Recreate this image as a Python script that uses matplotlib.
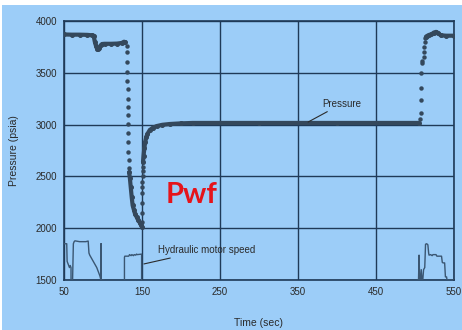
import matplotlib
matplotlib.use("Agg")
import matplotlib.pyplot as plt
from matplotlib.patches import Rectangle

# ---- data ----
# dense pressure record (drawn as a thick dotted trace)
pre_t = [50, 60, 70, 80, 86, 88, 89.5, 91, 92.5, 94, 95.5, 97, 99, 102, 110, 118, 124, 127, 128.5]
pre_p = [3870, 3868, 3868, 3866, 3862, 3858, 3800, 3760, 3732, 3728, 3740, 3765, 3778, 3780, 3780, 3782, 3788, 3800, 3795]

# fast drawdown (sparse points)
drop_t = [130.5, 131, 131, 131.2, 131.4, 131.5, 131.6, 131.8, 132, 132, 132.2, 132.4, 132.6, 132.8, 133]
drop_p = [3760, 3700, 3600, 3510, 3420, 3340, 3250, 3170, 3090, 3005, 2920, 2830, 2740, 2660, 2580]

# end of drawdown (dense)
dd_t = [133.5, 134.5, 135.5, 136.8, 138, 139.5, 141, 143, 145, 147, 149, 150]
dd_p = [2540, 2480, 2400, 2300, 2220, 2180, 2140, 2110, 2080, 2055, 2030, 2015]

# buildup start (sparse points)
bu_t = [150, 150.2, 150.3, 150.4, 150.5, 150.6, 150.7, 150.8, 151]
bu_p = [2060, 2150, 2245, 2340, 2400, 2450, 2505, 2550, 2595]

# buildup curve and stabilised pressure (dense)
rec_t = [151.3, 152, 153, 154, 155.5, 157, 160, 164, 169, 176, 186, 200, 215, 300, 400, 505]
rec_p = [2640, 2700, 2770, 2830, 2880, 2910, 2948, 2970, 2986, 2998, 3006, 3012, 3016, 3016, 3016, 3016]

# pressure rise at the end (sparse points)
rise_t = [507, 507.5, 507.8, 508, 508.3, 509, 509.5, 511, 511.5, 512, 512.5, 513]
rise_p = [3050, 3110, 3240, 3350, 3500, 3590, 3610, 3650, 3700, 3750, 3800, 3840]

# final dense segment
end_t = [514, 516, 518, 521, 524, 527, 530, 533, 540, 550]
end_p = [3848, 3858, 3866, 3870, 3888, 3895, 3880, 3862, 3858, 3858]

# hydraulic motor speed trace (plotted on the pressure scale)
m1_t = [50, 53.5, 54, 55, 56, 57, 58, 59, 59, 61, 62, 63, 64, 70, 78, 81, 82, 83, 86, 89, 92, 94, 96, 97, 97.5, 97.5, 97.5, 101]
m1_p = [1850, 1850, 1680, 1660, 1640, 1620, 1640, 1620, 1500, 1500, 1850, 1870, 1878, 1870, 1870, 1876, 1760, 1740, 1700, 1660, 1620, 1580, 1540, 1510, 1505, 1850, 1500, 1500]
m2_t = [127.5, 127.5, 128, 133, 134, 136, 137, 139, 140, 142, 143, 144, 149.5, 149.5]
m2_p = [1500, 1720, 1730, 1730, 1745, 1735, 1745, 1735, 1745, 1740, 1750, 1745, 1750, 1500]
m3_t = [503, 504.5, 505.2, 506, 507, 508, 509, 510, 511, 512.5, 513.5, 515, 516.5, 517.5, 518,
        520, 522, 523, 527, 528, 534, 535, 536, 538, 539, 540.5, 541, 550]
m3_p = [1500, 1500, 1740, 1500, 1500, 1600, 1500, 1500, 1600, 1620, 1845, 1850, 1840, 1760, 1740,
        1745, 1735, 1745, 1745, 1730, 1730, 1670, 1665, 1665, 1530, 1530, 1500, 1500]

x_ticks = [50, 150, 250, 350, 450, 550]
y_ticks = [1500, 2000, 2500, 3000, 3500, 4000]

# ---- style ----
BG = "#9ccdf8"
DOT = "#34485c"
GRID = "#1f3a58"
TXT = "#2a2a2a"
plt.rcParams['font.family'] = ['Liberation Sans', 'DejaVu Sans']

fig = plt.figure(figsize=(4.62, 3.30), dpi=100, facecolor="white")
fig.patches.append(Rectangle((0.004, 0), 0.996, 1 - 5/330, transform=fig.transFigure,
                             facecolor=BG, edgecolor="none", zorder=-10))
ax = fig.add_axes([64/462, 1 - 280/330, 390/462, 259/330])
ax.set_facecolor(BG)

# dense parts: thick trace plus dots
for t, p in [(pre_t, pre_p), (dd_t, dd_p), (rec_t, rec_p), (end_t, end_p)]:
    ax.plot(t, p, color=DOT, lw=3.0, solid_capstyle="round", zorder=3)
    ax.plot(t, p, 'o', color=DOT, ms=2.6, zorder=3)
# sparse parts: dots only
for t, p in [(drop_t, drop_p), (bu_t, bu_p), (rise_t, rise_p)]:
    ax.plot(t, p, 'o', color=DOT, ms=3.2, mec="none", zorder=3)

for t, p in [(m1_t, m1_p), (m2_t, m2_p), (m3_t, m3_p)]:
    ax.plot(t, p, color="#3a5672", lw=1.0, zorder=3)

ax.set_xlim(50, 550)
ax.set_ylim(1500, 4000)
ax.set_xticks(x_ticks)
ax.set_yticks(y_ticks)
ax.grid(True, color=GRID, lw=1.0)
ax.set_axisbelow(True)
for s in ax.spines.values():
    s.set_color(GRID)
    s.set_linewidth(1.2)
ax.tick_params(length=0, labelsize=7, labelcolor=TXT, pad=5)
ax.set_xlabel("Time (sec)", fontsize=7.5, color=TXT, labelpad=15)
ax.set_ylabel("Pressure (psia)", fontsize=7.5, color=TXT, labelpad=12)

# annotations
ax.annotate("Pressure", xy=(363, 3025), xytext=(381, 3200), fontsize=7, color=TXT,
            va="center", ha="left",
            arrowprops=dict(arrowstyle="-", color=TXT, lw=0.8, shrinkA=0, shrinkB=0))
ax.annotate("Hydraulic motor speed", xy=(152.5, 1655), xytext=(170, 1790), fontsize=7, color=TXT,
            va="center", ha="left",
            arrowprops=dict(arrowstyle="-", color=TXT, lw=0.8, shrinkA=1, shrinkB=0))
ax.text(180, 2316, "Pwf", fontsize=21, fontweight="bold", color="#e5141b",
        family=["Lato", "DejaVu Sans"], va="center", ha="left")

fig.savefig("out.png", dpi=100, facecolor=fig.get_facecolor())
